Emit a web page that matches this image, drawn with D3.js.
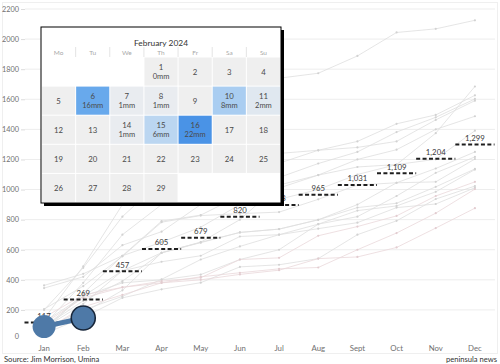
<!DOCTYPE html>
<html>
<head>
<meta charset="utf-8">
<script src="https://cdn.jsdelivr.net/npm/d3@7"></script>
<style>
  body { margin: 0; background: #fff; }
  svg { display: block; font-family: "Open Sans", sans-serif; }
</style>
</head>
<body>
<div id="viz"></div>
<script>
const width = 500;
const height = 364;

const months = ["Jan", "Feb", "Mar", "Apr", "May", "Jun", "Jul", "Aug", "Sept", "Oct", "Nov", "Dec"];
const yTicks = [0, 200, 400, 600, 800, 1000, 1200, 1400, 1600, 1800, 2000, 2200];

// cumulative rainfall (mm) for past years, Jan..Dec
const pastYears = [
  [200, 480, 820, 1060, 1250, 1480, 1740, 1773, 1888, 2044, 2068, 2125],
  [60, 310, 560, 790, 830, 960, 1010, 1096, 1150, 1166, 1375, 1685],
  [345, 420, 630, 720, 900, 1100, 1175, 1261, 1320, 1437, 1496, 1626],
  [100, 380, 700, 900, 1000, 1080, 1080, 1173, 1250, 1382, 1480, 1602],
  [140, 490, 900, 1100, 1180, 1230, 1240, 1261, 1280, 1320, 1463, 1591],
  [80, 240, 460, 580, 650, 800, 1030, 1096, 1200, 1265, 1400, 1487],
  [363, 440, 560, 650, 750, 900, 935, 1000, 1100, 1166, 1201, 1391],
  [50, 180, 330, 580, 650, 715, 737, 799, 900, 1045, 1140, 1250],
  [120, 290, 380, 400, 435, 535, 600, 770, 820, 957, 1111, 1217],
  [205, 358, 556, 783, 827, 840, 850, 935, 1030, 1045, 1051, 1203],
  [90, 260, 391, 579, 647, 715, 737, 799, 880, 909, 1018, 1137],
  [70, 200, 290, 403, 535, 622, 700, 770, 860, 891, 985, 1133],
  [110, 280, 350, 391, 414, 535, 546, 693, 754, 825, 957, 1051],
  [40, 150, 280, 337, 381, 486, 500, 541, 700, 792, 937, 1023],
  [85, 292, 460, 520, 560, 688, 700, 740, 780, 880, 904, 1012],
  [150, 300, 350, 380, 420, 447, 473, 482, 600, 711, 843, 1003],
  [60, 220, 300, 380, 400, 436, 464, 541, 552, 615, 744, 876]
];
const pinkYears = [12, 15, 16];

const averages = [117, 269, 457, 605, 679, 820, 898, 965, 1031, 1109, 1204, 1299];
const current = [89, 146];

// February 2024 calendar
const calTitle = "February 2024";
const weekdays = ["Mo", "Tu", "We", "Th", "Fr", "Sa", "Su"];
const firstWeekday = 3; // 1 Feb 2024 is a Thursday
const daysInMonth = 29;
const rainDays = [1, 6, 7, 8, 10, 11, 14, 15, 16];
const rainMm = [0, 16, 1, 1, 8, 2, 1, 6, 22];

const svg = d3.select("#viz")
  .append("svg")
    .attr("width", width)
    .attr("height", height);

// frame
svg.append("rect")
  .attr("x", 2.5).attr("y", 2.5)
  .attr("width", 495).attr("height", 351)
  .attr("fill", "none")
  .attr("stroke", "#efefef");

const x = d3.scaleBand()
  .domain(months)
  .range([24.5, 494.5]);

const y = d3.scaleLinear()
  .domain([0, 2200])
  .range([340, 9]);

const cx = m => x(m) + x.bandwidth() / 2;

// gridlines
svg.append("g")
  .selectAll("line")
  .data(yTicks.filter(d => d > 0))
  .join("line")
    .attr("x1", 25).attr("x2", 495)
    .attr("y1", d => y(d)).attr("y2", d => y(d))
    .attr("stroke", "#ededed");

// y axis
const yAxis = svg.append("g")
  .attr("transform", "translate(25,0)")
  .call(d3.axisLeft(y).tickValues(yTicks).tickSize(4).tickPadding(2).tickFormat(d3.format("d")));
yAxis.select(".domain").remove();
yAxis.selectAll(".tick line").attr("stroke", "#dcdcdc");
yAxis.selectAll(".tick text")
  .attr("fill", "#707070")
  .style("font-size", "7.3px")
  .style("font-family", "Lato, sans-serif");
yAxis.selectAll(".tick").filter(d => d === 0).select("text").attr("dy", "-0.2em");
yAxis.selectAll(".tick").filter(d => d === 0).select("line").remove();

// x axis
const xAxis = svg.append("g")
  .attr("transform", "translate(0,343)")
  .call(d3.axisBottom(x).tickSize(0).tickPadding(2));
xAxis.select(".domain").remove();
xAxis.selectAll(".tick text")
  .attr("fill", "#707070")
  .style("font-size", "7.8px")
  .style("font-family", "Lato, sans-serif");

// past year lines
const line = d3.line()
  .x((d, i) => cx(months[i]))
  .y(d => y(d));

const years = svg.append("g");
pastYears.forEach((vals, k) => {
  const pink = pinkYears.includes(k);
  years.append("path")
    .datum(vals)
    .attr("d", line)
    .attr("fill", "none")
    .attr("stroke", pink ? "#ead8db" : "#dedede")
    .attr("stroke-width", 0.8);
  years.selectAll(null)
    .data(vals)
    .join("circle")
      .attr("cx", (d, i) => cx(months[i]))
      .attr("cy", d => y(d))
      .attr("r", 1.1)
      .attr("fill", pink ? "#e2ccd0" : "#d2d2d2");
});

// monthly averages
const avg = svg.append("g");
avg.selectAll("line")
  .data(averages)
  .join("line")
    .attr("x1", (d, i) => x(months[i]))
    .attr("x2", (d, i) => x(months[i]) + x.bandwidth())
    .attr("y1", d => y(d))
    .attr("y2", d => y(d))
    .attr("stroke", "#1e1e1e")
    .attr("stroke-width", 2)
    .attr("stroke-dasharray", "4,2.4");
avg.selectAll("text")
  .data(averages)
  .join("text")
    .attr("x", (d, i) => cx(months[i]))
    .attr("y", d => y(d) - 3.5)
    .attr("text-anchor", "middle")
    .attr("fill", "#3a3a3a")
    .style("font-size", "7.8px")
    .style("font-family", "Lato, sans-serif")
    .text(d => d3.format(",")(d));

// 2024
const cur = svg.append("g");
cur.append("path")
  .datum(current)
  .attr("d", line)
  .attr("fill", "none")
  .attr("stroke", "#4e79a7")
  .attr("stroke-width", 5);
cur.selectAll("circle")
  .data(current)
  .join("circle")
    .attr("cx", (d, i) => cx(months[i]))
    .attr("cy", d => y(d))
    .attr("r", (d, i) => i === 0 ? 11.5 : 12)
    .attr("fill", "#4e79a7")
    .attr("stroke", "#17263a")
    .attr("stroke-width", (d, i) => i === 0 ? 0 : 1.6);

// calendar tooltip
const cal = svg.append("g");
const box = { x: 41, y: 27, w: 240, h: 176 };
cal.append("rect")
  .attr("x", box.x + 3).attr("y", box.y + 3)
  .attr("width", box.w).attr("height", box.h)
  .attr("fill", "#000");
cal.append("rect")
  .attr("x", box.x).attr("y", box.y)
  .attr("width", box.w).attr("height", box.h)
  .attr("fill", "#fff")
  .attr("stroke", "#000")
  .attr("stroke-width", 1);

cal.append("text")
  .attr("x", box.x + box.w / 2)
  .attr("y", 46)
  .attr("text-anchor", "middle")
  .attr("fill", "#333")
  .style("font-size", "8.4px")
  .style("font-family", "Lato, sans-serif")
  .text(calTitle);

const col = d3.scaleBand().domain(d3.range(7)).range([41.5, 280.5]);
const row = d3.scaleBand().domain(d3.range(5)).range([57, 202.5]);

cal.selectAll(".wd")
  .data(weekdays)
  .join("text")
    .attr("class", "wd")
    .attr("x", (d, i) => col(i) + col.bandwidth() / 2)
    .attr("y", 55)
    .attr("text-anchor", "middle")
    .attr("fill", "#a8a8a8")
    .style("font-size", "6.5px")
    .style("font-family", "Lato, sans-serif")
    .text(d => d);
cal.selectAll(".wdsep")
  .data(d3.range(1, 7))
  .join("line")
    .attr("class", "wdsep")
    .attr("x1", d => col(d)).attr("x2", d => col(d))
    .attr("y1", 47).attr("y2", 57)
    .attr("stroke", "#e4e4e4");

const color = d3.scaleLinear()
  .domain([0, 1, 8, 16, 22])
  .range(["#efefef", "#e9ecf0", "#a9cdf1", "#68a9ec", "#4a93e6"]);

const cells = d3.range(1, daysInMonth + 1).map(day => {
  const k = day - 1 + firstWeekday;
  const ri = rainDays.indexOf(day);
  return { day, c: k % 7, r: Math.floor(k / 7), mm: ri >= 0 ? rainMm[ri] : null };
});

const cell = cal.selectAll(".cell")
  .data(cells)
  .join("g")
    .attr("class", "cell")
    .attr("transform", d => `translate(${col(d.c)},${row(d.r)})`);
cell.append("rect")
  .attr("x", 0.5).attr("y", 0.5)
  .attr("width", col.bandwidth() - 1)
  .attr("height", row.bandwidth() - 1)
  .attr("fill", d => d.mm === null ? "#efefef" : color(d.mm));
cell.append("text")
  .attr("x", col.bandwidth() / 2)
  .attr("y", d => d.mm === null ? row.bandwidth() / 2 + 3 : row.bandwidth() / 2 - 1.8)
  .attr("text-anchor", "middle")
  .attr("fill", "#4a4a4a")
  .style("font-size", "7.8px")
  .style("font-family", "Lato, sans-serif")
  .text(d => d.day);
cell.filter(d => d.mm !== null)
  .append("text")
    .attr("x", col.bandwidth() / 2)
    .attr("y", row.bandwidth() / 2 + 7.5)
    .attr("text-anchor", "middle")
    .attr("fill", "#4a4a4a")
    .style("font-size", "7.5px")
    .style("font-family", "Lato, sans-serif")
    .text(d => d.mm + "mm");

// footer
svg.append("text")
  .attr("x", 4).attr("y", 362)
  .attr("fill", "#333")
  .style("font-size", "7.6px")
  .style("font-family", "Lato, sans-serif")
  .text("Source: Jim Morrison, Umina");
svg.append("text")
  .attr("x", 497).attr("y", 362)
  .attr("text-anchor", "end")
  .attr("fill", "#333")
  .style("font-size", "7.6px")
  .style("font-family", "Lato, sans-serif")
  .text("peninsula news");
</script>
</body>
</html>
